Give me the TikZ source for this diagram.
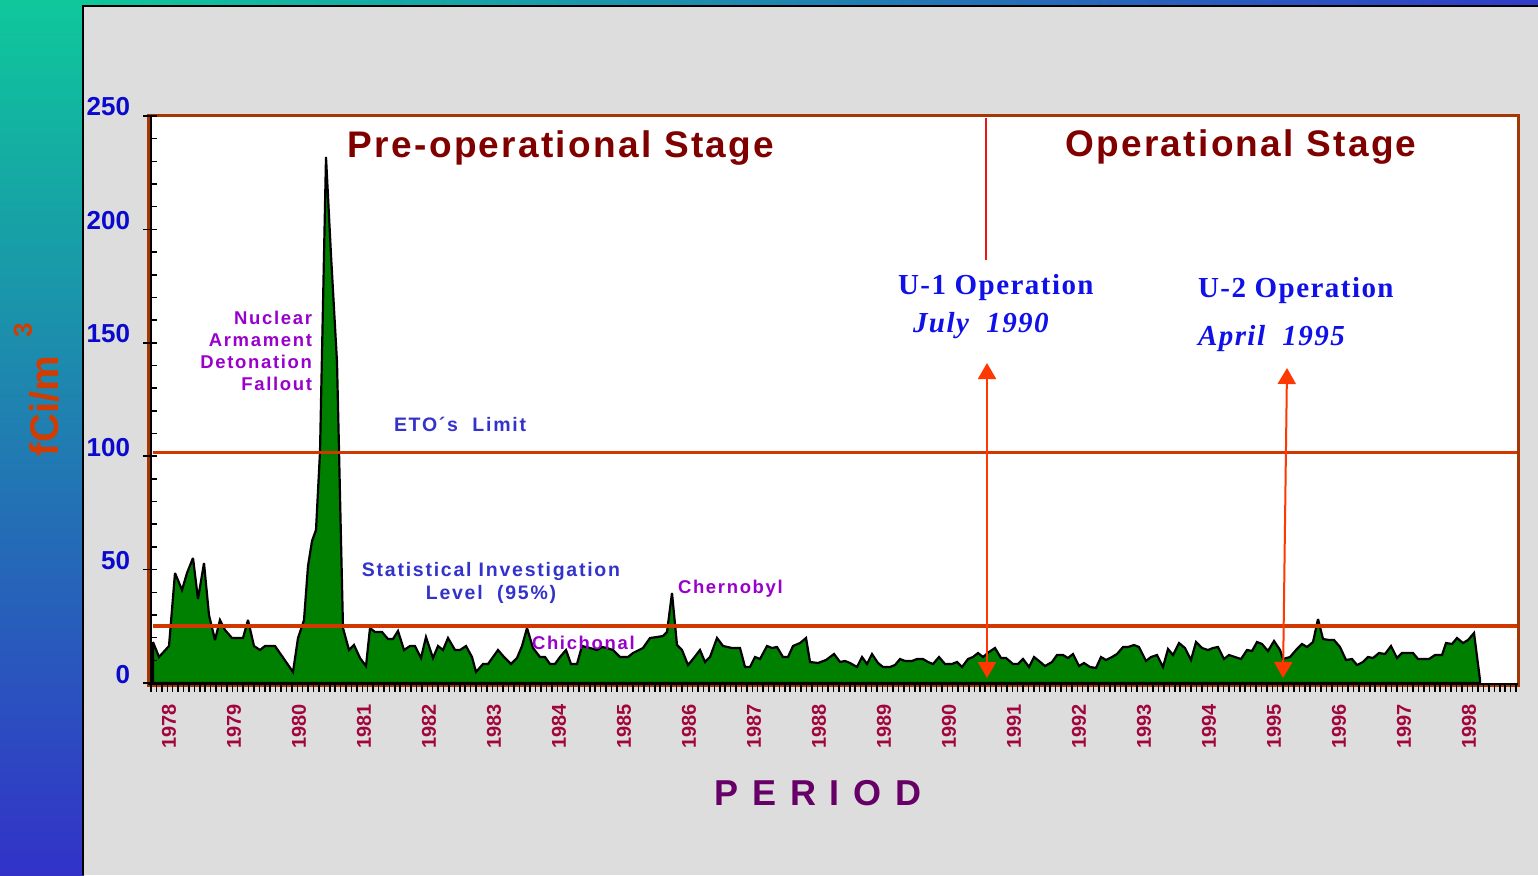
\documentclass[tikz,border=0pt]{standalone}
\usepackage{fontspec}
\setmainfont{Liberation Sans}
\newfontfamily\stagefont[LetterSpace=6.2]{Liberation Sans}
\newfontfamily\notefont[LetterSpace=9]{Liberation Sans}
\newfontfamily\opfont[LetterSpace=5]{Liberation Serif}
\newfontfamily\periodfont[LetterSpace=10]{Liberation Sans}
\usetikzlibrary{arrows.meta}

\definecolor{teal1}{RGB}{14,200,155}
\definecolor{blue1}{RGB}{50,50,200}
\definecolor{blue2}{RGB}{48,60,200}
\definecolor{panel}{RGB}{221,221,221}
\definecolor{framebrown}{RGB}{165,55,5}
\definecolor{limitred}{RGB}{208,56,0}
\definecolor{thinred}{RGB}{240,20,20}
\definecolor{arrowred}{RGB}{255,55,0}
\definecolor{areagreen}{RGB}{0,128,0}
\definecolor{ytickblue}{RGB}{10,10,205}
\definecolor{yearcol}{RGB}{160,5,60}
\definecolor{stagered}{RGB}{128,0,0}
\definecolor{opblue}{RGB}{16,16,232}
\definecolor{noteblue}{RGB}{51,51,204}
\definecolor{notepurple}{RGB}{153,0,204}
\definecolor{periodcol}{RGB}{102,0,102}
\definecolor{unitcol}{RGB}{210,60,0}

\begin{document}
\begin{tikzpicture}[x=1pt,y=-1pt,
  lbl/.style={inner sep=0pt,outer sep=0pt},
  ylab/.style={lbl,anchor=base east,text=ytickblue,font=\bfseries\fontsize{26}{30}\selectfont},
  xlab/.style={lbl,rotate=90,anchor=east,text=yearcol,font=\bfseries\fontsize{20}{24}\selectfont},
  stagetitle/.style={lbl,anchor=base,text=stagered,font=\stagefont\bfseries\fontsize{37}{40}\selectfont},
  opname/.style={lbl,anchor=base west,text=opblue,font=\opfont\bfseries\fontsize{29}{32}\selectfont},
  opdate/.style={lbl,anchor=base west,text=opblue,font=\opfont\bfseries\itshape\fontsize{29}{32}\selectfont},
  bluenote/.style={lbl,text=noteblue,font=\notefont\bfseries\fontsize{19.5}{24}\selectfont},
  eventnote/.style={lbl,text=notepurple,font=\notefont\bfseries\fontsize{18.5}{22}\selectfont},
  limitline/.style={draw=limitred,line width=3.5pt},
  oparrow/.style={draw=arrowred,line width=2pt,{Triangle[width=18pt,length=16pt]}-{Triangle[width=18pt,length=16pt]}},
  tickline/.style={draw=black,line width=1.5pt},
  dataarea/.style={fill=areagreen,draw=black,line width=2.2pt,line join=miter,miter limit=4}
]
\useasboundingbox (0,0) rectangle (1538,875);

% backdrop: gradient strips and grey panel
\shade[top color=teal1,bottom color=blue1] (0,0) rectangle (84,875);
\shade[left color=teal1,right color=blue2] (83,0) rectangle (1538,7);
\fill[panel] (83,6) rectangle (1538,875);
\draw[black,line width=2pt] (83,875) -- (83,6) -- (1538,6);

% plotting area
\fill[white] (148,115) rectangle (1518,685);

% monthly concentration record
\draw[dataarea] (153,683) -- (153,642) -- (159,657) -- (169,646) -- (175,573) -- (182,590) -- (187,573) -- (193,558) -- (198,599) -- (204,563) -- (209,615) -- (215,640) -- (220,620) -- (225,630) -- (232,638) -- (243,638) -- (248,620) -- (254,646) -- (260,650) -- (265,646) -- (275,646) -- (293,672) -- (298,638) -- (304,620) -- (308,566) -- (312,541) -- (316,530) -- (320,452) -- (326,157) -- (331,255) -- (337,362) -- (339,450) -- (341,540) -- (343,628) -- (349,650) -- (354,645) -- (360,658) -- (366,666) -- (370,628) -- (375,632) -- (382,632) -- (388,639) -- (393,639) -- (398,631) -- (404,650) -- (410,646) -- (415,646) -- (421,658) -- (426,637) -- (433,658) -- (438,646) -- (443,650) -- (448,638) -- (455,650) -- (460,650) -- (466,646) -- (472,657) -- (476,672) -- (483,664) -- (488,664) -- (498,650) -- (504,657) -- (511,664) -- (517,658) -- (522,646) -- (527,628) -- (533,648) -- (540,657) -- (545,657) -- (550,664) -- (555,664) -- (560,657) -- (566,650) -- (571,664) -- (577,664) -- (582,646) -- (590,648) -- (597,650) -- (602,647) -- (607,648) -- (613,650) -- (620,657) -- (628,657) -- (633,653) -- (643,648) -- (650,638) -- (657,637) -- (663,636) -- (667,632) -- (672,593) -- (677,645) -- (682,650) -- (688,665) -- (693,659) -- (700,650) -- (705,662) -- (710,657) -- (717,638) -- (723,646) -- (732,648) -- (740,648) -- (745,667) -- (750,667) -- (755,657) -- (760,659) -- (767,646) -- (772,648) -- (777,647) -- (783,657) -- (788,657) -- (793,646) -- (800,643) -- (806,638) -- (810,662) -- (818,663) -- (826,660) -- (834,654) -- (840,662) -- (845,661) -- (850,663) -- (857,667) -- (862,657) -- (867,664) -- (872,654) -- (878,663) -- (883,667) -- (890,667) -- (895,665) -- (900,659) -- (905,661) -- (912,661) -- (917,659) -- (923,659) -- (928,662) -- (933,664) -- (939,657) -- (945,664) -- (952,664) -- (957,662) -- (962,667) -- (968,659) -- (973,657) -- (978,653) -- (983,657) -- (989,652) -- (995,648) -- (1001,658) -- (1006,658) -- (1013,664) -- (1018,664) -- (1023,659) -- (1029,667) -- (1034,657) -- (1039,661) -- (1045,666) -- (1052,662) -- (1057,655) -- (1063,655) -- (1068,658) -- (1073,654) -- (1079,666) -- (1084,663) -- (1090,667) -- (1096,668) -- (1101,657) -- (1106,660) -- (1112,657) -- (1117,654) -- (1123,647) -- (1128,647) -- (1134,645) -- (1139,647) -- (1146,661) -- (1151,657) -- (1157,655) -- (1163,667) -- (1168,649) -- (1173,655) -- (1179,643) -- (1185,648) -- (1191,660) -- (1196,642) -- (1202,648) -- (1208,650) -- (1213,648) -- (1218,647) -- (1224,659) -- (1229,655) -- (1235,657) -- (1241,659) -- (1247,650) -- (1252,651) -- (1257,642) -- (1262,644) -- (1268,651) -- (1274,641) -- (1280,650) -- (1283,659) -- (1290,657) -- (1296,650) -- (1302,644) -- (1307,647) -- (1313,642) -- (1318,619) -- (1323,639) -- (1329,640) -- (1334,640) -- (1340,647) -- (1346,660) -- (1352,659) -- (1357,665) -- (1363,662) -- (1368,657) -- (1373,658) -- (1379,653) -- (1385,654) -- (1391,646) -- (1397,658) -- (1402,653) -- (1413,653) -- (1418,659) -- (1429,659) -- (1435,655) -- (1442,655) -- (1446,643) -- (1452,644) -- (1457,638) -- (1463,643) -- (1468,640) -- (1474,633) -- (1480,680) -- (1480,683) -- cycle;

% reference levels
\draw[limitline] (153,452.5) -- (1518,452.5);
\draw[limitline] (153,626) -- (1518,626);

% frame, axes and ticks
\draw[framebrown,line width=3pt] (148,115) rectangle (1518,685);
\draw[black,line width=2pt] (151,116) -- (151,684);
\draw[black,line width=2pt] (148,684) -- (1518,684);
\foreach \v in {10,20,...,240}
  \draw[tickline] (151,{683-\v*2.268}) -- ++(6,0);
\foreach \v in {0,50,...,250}{
  \draw[tickline] (143,{683-\v*2.268}) -- ++(14,0);
  \node[ylab] (ylab\v) at (130,{683-\v*2.268}) {\v};
}
\foreach \i in {0,...,252}
  \draw[tickline] ({151+\i*65/12},684) -- ++(0,8);
\foreach \k in {0,...,20}{
  \pgfmathtruncatemacro{\yr}{1978+\k}
  \node[xlab] (year\yr) at ({169+65*\k},704) {\yr};
}

% axis titles
\node[lbl,rotate=90,text=unitcol,font=\bfseries\fontsize{40}{44}\selectfont] (unit) at (44,406) {fCi/m};
\node[lbl,rotate=90,text=unitcol,font=\bfseries\fontsize{26}{30}\selectfont] (unitexp) at (23,330) {3};
\node[lbl,anchor=center,text=periodcol,font=\periodfont\bfseries\fontsize{36}{40}\selectfont] (period) at (818,793) {P E R I O D};

% stage headings and divider
\node[stagetitle] (prestage) at (561,157) {Pre-operational Stage};
\node[stagetitle] (opstage) at (1241,156) {Operational Stage};
\coordinate (divtop) at (986,118);
\coordinate (divbot) at (986,260);
\draw[thinred,line width=2pt] (divtop) -- (divbot);

% unit start-up markers
\node[opname] (u1name) at (898,294) {U-1 Operation};
\node[opdate] (u1date) at (913,332) {July\ \ 1990};
\node[opname] (u2name) at (1198,297) {U-2 Operation};
\node[opdate] (u2date) at (1198,345) {April\ \ 1995};
\coordinate (u1top) at (987,363);
\coordinate (u1bot) at (987,678);
\coordinate (u2top) at (1287,368);
\coordinate (u2bot) at (1283,678);
\draw[oparrow] (u1top) -- (u1bot);
\draw[oparrow] (u2top) -- (u2bot);

% level annotations
\node[bluenote,anchor=base west] (eto) at (394,431) {ETO´s\ \ Limit};
\node[bluenote,anchor=base] (sil1) at (491,576) {Statistical Investigation};
\node[bluenote,anchor=base] (sil2) at (491,599) {Level\ \ (95\%)};

% event annotations
\node[eventnote,anchor=base east] (ev1) at (312,324) {Nuclear};
\node[eventnote,anchor=base east] (ev2) at (312,346) {Armament};
\node[eventnote,anchor=base east] (ev3) at (312,368) {Detonation};
\node[eventnote,anchor=base east] (ev4) at (312,390) {Fallout};
\node[eventnote,anchor=base west] (chern) at (678,593) {Chernobyl};
\node[eventnote,anchor=base west] (chich) at (532,649) {Chichonal};
\end{tikzpicture}
\end{document}
